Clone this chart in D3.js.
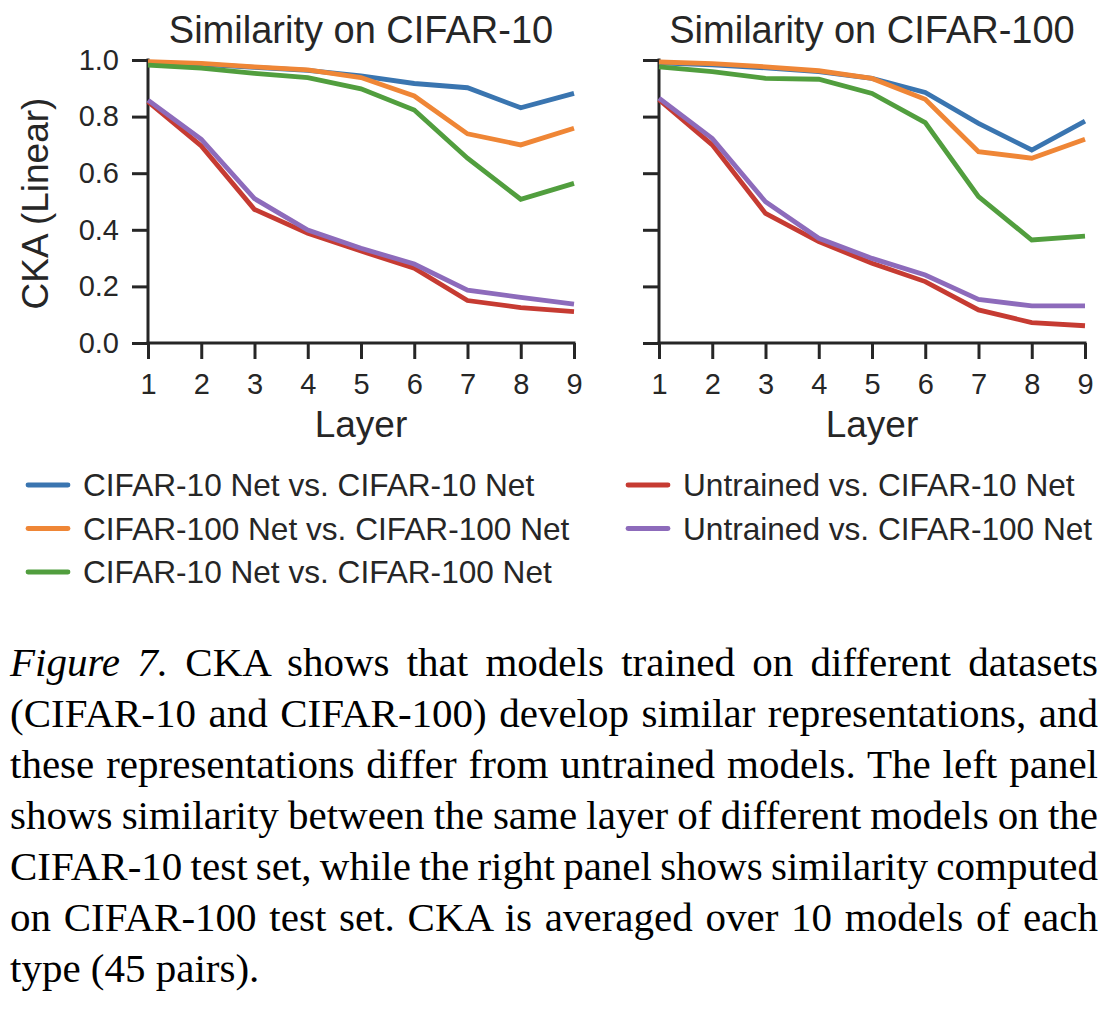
<!DOCTYPE html>
<html>
<head>
<meta charset="utf-8">
<script src="https://cdn.jsdelivr.net/npm/d3@7"></script>
<style>
  html, body { margin: 0; padding: 0; background: #fff; }
  svg { display: block; }
</style>
</head>
<body>
<div id="wrap"></div>
<script>
// ---------------- data ----------------
const layers = [1, 2, 3, 4, 5, 6, 7, 8, 9];
const yTicks = [0.0, 0.2, 0.4, 0.6, 0.8, 1.0];
const panelTitles = ["Similarity on CIFAR-10", "Similarity on CIFAR-100"];
const seriesNames = [
  "CIFAR-10 Net vs. CIFAR-10 Net",
  "CIFAR-100 Net vs. CIFAR-100 Net",
  "CIFAR-10 Net vs. CIFAR-100 Net",
  "Untrained vs. CIFAR-10 Net",
  "Untrained vs. CIFAR-100 Net"
];
const seriesColors = ["#3a75b0", "#ef8636", "#519e3e", "#c63b32", "#8d6bbb"];

// Left panel: CIFAR-10 test set
const left_c10_vs_c10   = [0.990, 0.985, 0.974, 0.963, 0.944, 0.917, 0.902, 0.831, 0.882];
const left_c100_vs_c100 = [0.994, 0.988, 0.976, 0.965, 0.938, 0.873, 0.739, 0.700, 0.759];
const left_c10_vs_c100  = [0.982, 0.971, 0.953, 0.938, 0.898, 0.823, 0.653, 0.508, 0.564];
const left_untr_vs_c10  = [0.853, 0.696, 0.472, 0.388, 0.325, 0.264, 0.150, 0.125, 0.111];
const left_untr_vs_c100 = [0.858, 0.720, 0.510, 0.399, 0.335, 0.279, 0.187, 0.161, 0.137];

// Right panel: CIFAR-100 test set
const right_c10_vs_c10   = [0.990, 0.983, 0.972, 0.959, 0.935, 0.885, 0.776, 0.682, 0.784];
const right_c100_vs_c100 = [0.993, 0.987, 0.976, 0.962, 0.935, 0.861, 0.676, 0.653, 0.720];
const right_c10_vs_c100  = [0.976, 0.959, 0.935, 0.932, 0.882, 0.779, 0.517, 0.364, 0.378];
const right_untr_vs_c10  = [0.860, 0.700, 0.458, 0.358, 0.282, 0.217, 0.117, 0.072, 0.061];
const right_untr_vs_c100 = [0.865, 0.723, 0.499, 0.370, 0.299, 0.240, 0.154, 0.131, 0.131];

// caption: [italic lead, rest]
const captionLines = [
  ["Figure 7.", " CKA shows that models trained on different datasets"],
  ["", "(CIFAR-10 and CIFAR-100) develop similar representations, and"],
  ["", "these representations differ from untrained models. The left panel"],
  ["", "shows similarity between the same layer of different models on the"],
  ["", "CIFAR-10 test set, while the right panel shows similarity computed"],
  ["", "on CIFAR-100 test set. CKA is averaged over 10 models of each"],
  ["", "type (45 pairs)."]
];

const panels = [
  { title: panelTitles[0], series: [left_c10_vs_c10, left_c100_vs_c100, left_c10_vs_c100, left_untr_vs_c10, left_untr_vs_c100], x0: 148, showY: true },
  { title: panelTitles[1], series: [right_c10_vs_c10, right_c100_vs_c100, right_c10_vs_c100, right_untr_vs_c10, right_untr_vs_c100], x0: 659, showY: false }
];

// ---------------- drawing ----------------
const W = 1120, H = 1010;
const ink = "#262626";
const sans = "'Liberation Sans', Arial, Helvetica, sans-serif";
const serif = "'Liberation Serif', 'Times New Roman', serif";
const plotW = 426, yTop = 60, yBot = 343;

const svg = d3.select("#wrap").append("svg").attr("width", W).attr("height", H);

const y = d3.scaleLinear().domain([0, 1]).range([yBot, yTop]);

panels.forEach(p => {
  const x = d3.scaleLinear().domain([1, 9]).range([p.x0, p.x0 + plotW]);
  const g = svg.append("g");

  const yAxis = d3.axisLeft(y).tickValues(yTicks).tickSize(16).tickPadding(13)
    .tickFormat(p.showY ? d3.format(".1f") : () => "");
  const gy = g.append("g").attr("transform", `translate(${p.x0},0)`).call(yAxis);
  const xAxis = d3.axisBottom(x).tickValues(layers).tickSize(16).tickPadding(14).tickFormat(d3.format("d"));
  const gx = g.append("g").attr("transform", `translate(0,${yBot})`).call(xAxis);

  [gx, gy].forEach(a => {
    a.select(".domain").attr("stroke", ink).attr("stroke-width", 3).attr("fill", "none").attr("stroke-linecap", "square");
    a.selectAll(".tick line").attr("stroke", ink).attr("stroke-width", 3);
    a.selectAll(".tick text").attr("fill", ink).style("font-family", sans).style("font-size", "29px");
  });
  gy.select(".domain").attr("d", `M0,${y(0)}V${y(1)}`);
  gx.select(".domain").attr("d", `M${x(1)},0H${x(9)}`);

  const line = d3.line().x((d, i) => x(layers[i])).y(d => y(d));
  p.series.forEach((s, k) => {
    g.append("path").datum(s).attr("d", line).attr("fill", "none")
      .attr("stroke", seriesColors[k]).attr("stroke-width", 4.8)
      .attr("stroke-linejoin", "miter").attr("stroke-linecap", "butt");
  });

  g.append("text").attr("x", (x(1) + x(9)) / 2).attr("y", 43).attr("text-anchor", "middle")
    .style("font-family", sans).style("font-size", "38px").attr("fill", ink).text(p.title);
  g.append("text").attr("x", (x(1) + x(9)) / 2).attr("y", 437).attr("text-anchor", "middle")
    .style("font-family", sans).style("font-size", "37px").attr("fill", ink).text("Layer");
  if (p.showY) {
    g.append("text").attr("transform", `translate(48,${(yTop + yBot) / 2 + 2}) rotate(-90)`)
      .attr("text-anchor", "middle")
      .style("font-family", sans).style("font-size", "37px").attr("fill", ink).text("CKA (Linear)");
  }
});

// legend
const legendItems = [
  { k: 0, col: 0, row: 0 }, { k: 1, col: 0, row: 1 }, { k: 2, col: 0, row: 2 },
  { k: 3, col: 1, row: 0 }, { k: 4, col: 1, row: 1 }
];
const legCols = [28, 628], legRow0 = 485, legDy = 43.5;
const lg = svg.append("g");
legendItems.forEach(it => {
  const lx = legCols[it.col], ly = legRow0 + it.row * legDy;
  lg.append("line").attr("x1", lx).attr("x2", lx + 40).attr("y1", ly).attr("y2", ly)
    .attr("stroke", seriesColors[it.k]).attr("stroke-width", 4.8).attr("stroke-linecap", "round");
  lg.append("text").attr("x", lx + 55).attr("y", ly).attr("dy", "0.36em")
    .style("font-family", sans).style("font-size", "31.6px").attr("fill", ink).text(seriesNames[it.k]);
});

// caption (justified per line)
const capX = 10, capW = 1088, capBase = 676, capDy = 51, capSize = 41;
const cg = svg.append("g");
captionLines.forEach((ln, i) => {
  const t = cg.append("text").attr("x", capX).attr("y", capBase + i * capDy)
    .style("font-family", serif).style("font-size", capSize + "px").attr("fill", "#000")
    .attr("xml:space", "preserve");
  if (ln[0]) t.append("tspan").style("font-style", "italic").text(ln[0]);
  t.append("tspan").text(ln[1]);
  if (i < captionLines.length - 1) {
    const natural = t.node().getComputedTextLength();
    const spaces = (ln[0] + ln[1]).split(" ").length - 1;
    const ws = (capW - natural) / spaces;
    t.style("word-spacing", ws + "px");
  }
});
</script>
</body>
</html>
